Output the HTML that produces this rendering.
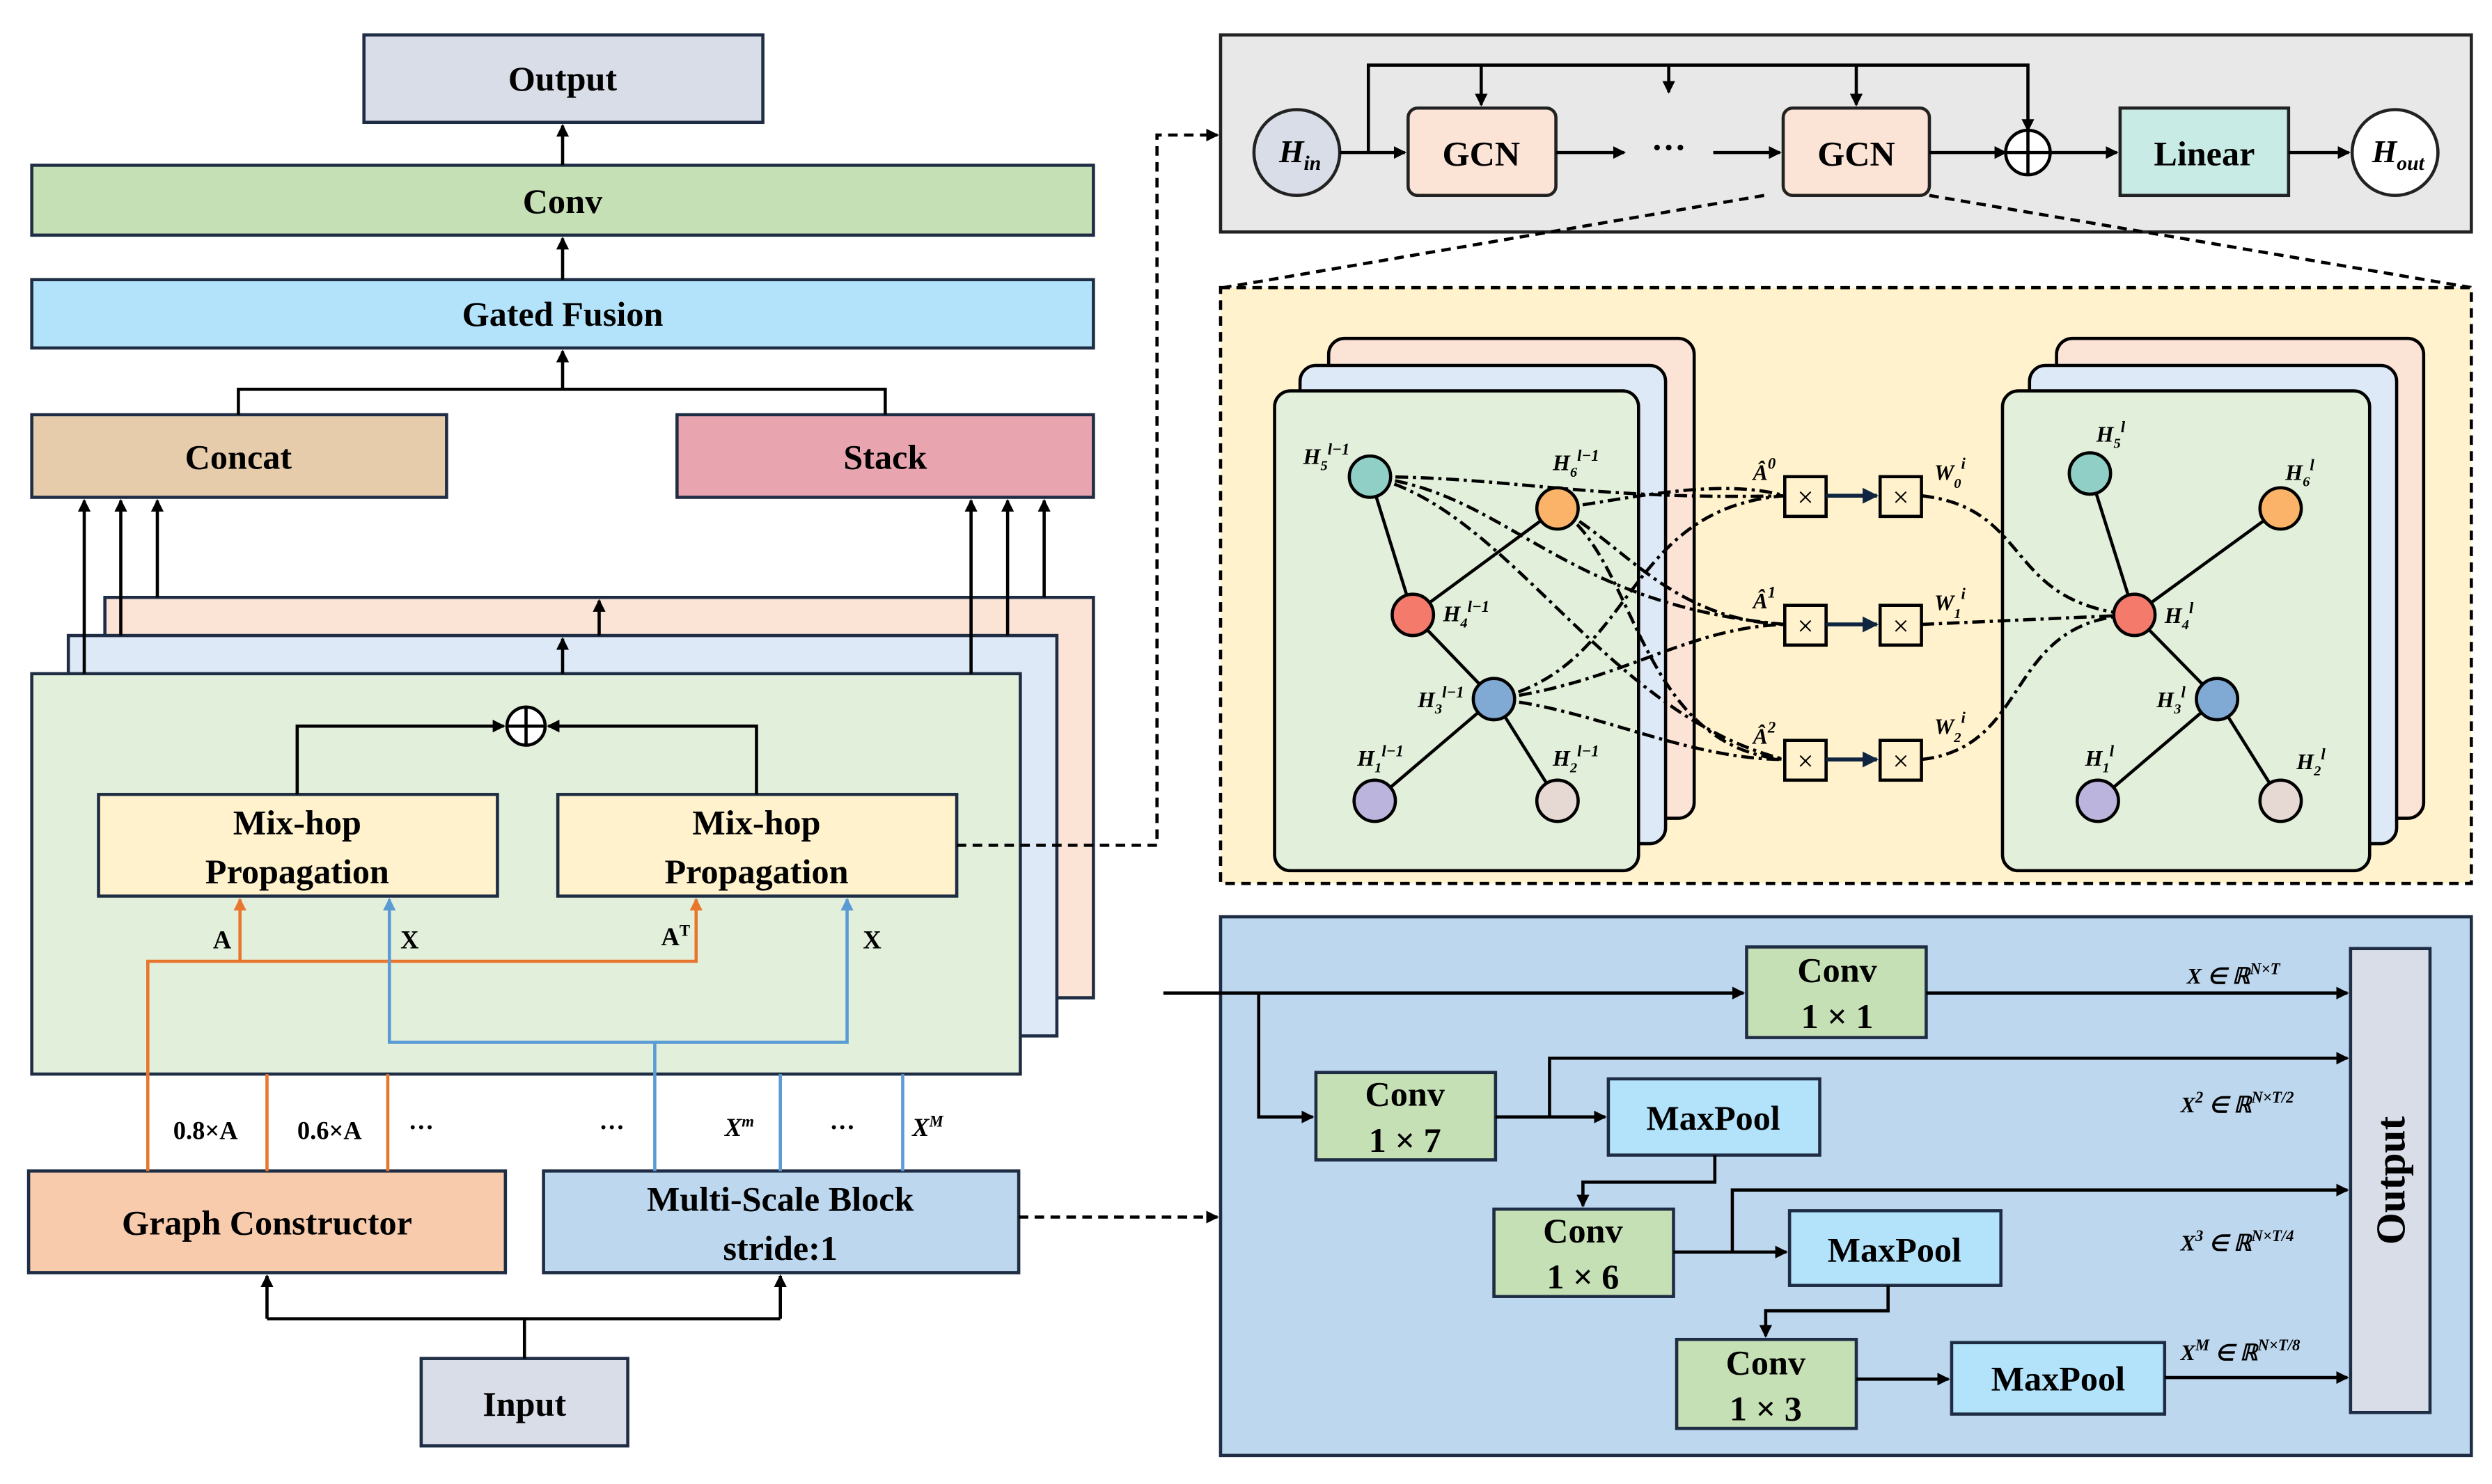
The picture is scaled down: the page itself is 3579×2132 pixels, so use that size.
<!DOCTYPE html><html><head><style>html,body{margin:0;padding:0;background:#fff}svg{display:block}</style></head><body>
<svg width="3579" height="2132" viewBox="0 0 1568 934" preserveAspectRatio="none" xmlns="http://www.w3.org/2000/svg" font-family="Liberation Serif, serif" font-weight="bold">
<defs>
<marker id="a" markerWidth="8" markerHeight="8" refX="7" refY="4" orient="auto" markerUnits="userSpaceOnUse"><path d="M0,0 L8,4 L0,8 z" fill="#000"/></marker>
<marker id="ao" markerWidth="8" markerHeight="8" refX="7" refY="4" orient="auto" markerUnits="userSpaceOnUse"><path d="M0,0 L8,4 L0,8 z" fill="#e8762d"/></marker>
<marker id="ab" markerWidth="8" markerHeight="8" refX="7" refY="4" orient="auto" markerUnits="userSpaceOnUse"><path d="M0,0 L8,4 L0,8 z" fill="#5b9bd5"/></marker>
<marker id="an" markerWidth="10" markerHeight="10" refX="9" refY="5" orient="auto" markerUnits="userSpaceOnUse"><path d="M0,0 L10,5 L0,10 z" fill="#0f2540"/></marker>
</defs>
<g stroke="#1f2d44" stroke-width="2">
<rect x="229" y="22" width="251" height="55" fill="#d9dde8"/>
<rect x="20" y="104" width="668" height="44" fill="#c5e0b4"/>
<rect x="20" y="176" width="668" height="43" fill="#b3e3fa"/>
<rect x="20" y="261" width="261" height="52" fill="#e6ccaa"/>
<rect x="426" y="261" width="262" height="52" fill="#e8a5b0"/>
<rect x="66" y="376" width="622" height="252" fill="#fbe3d6"/>
<rect x="43" y="400" width="622" height="252" fill="#dde9f6"/>
<rect x="20" y="424" width="622" height="252" fill="#e2efda"/>
<rect x="62" y="500" width="251" height="64" fill="#fff2cc"/>
<rect x="351" y="500" width="251" height="64" fill="#fff2cc"/>
<rect x="18" y="737" width="300" height="64" fill="#f8cbad"/>
<rect x="342" y="737" width="299" height="64" fill="#bdd7ee"/>
<rect x="265" y="855" width="130" height="55" fill="#d9dde8"/>
</g>
<g font-size="22" text-anchor="middle" fill="#000">
<text x="354" y="57">Output</text><text x="354" y="134">Conv</text><text x="354" y="205">Gated Fusion</text>
<text x="150" y="295">Concat</text><text x="557" y="295">Stack</text>
<text x="187" y="525">Mix-hop</text><text x="187" y="556">Propagation</text>
<text x="476" y="525">Mix-hop</text><text x="476" y="556">Propagation</text>
<text x="168" y="777">Graph Constructor</text>
<text x="491" y="762">Multi-Scale Block</text><text x="491" y="793">stride:1</text>
<text x="330" y="891">Input</text>
</g>
<g stroke="#000" stroke-width="2" fill="none">
<line x1="354" y1="104" x2="354" y2="79" marker-end="url(#a)"/>
<line x1="354" y1="176" x2="354" y2="150" marker-end="url(#a)"/>
<polyline points="150,261 150,245 557,245 557,261"/><line x1="354" y1="245" x2="354" y2="221" marker-end="url(#a)"/>
<line x1="53" y1="424" x2="53" y2="315" marker-end="url(#a)"/><line x1="76" y1="400" x2="76" y2="315" marker-end="url(#a)"/><line x1="99" y1="376" x2="99" y2="315" marker-end="url(#a)"/>
<line x1="611" y1="424" x2="611" y2="315" marker-end="url(#a)"/><line x1="634" y1="400" x2="634" y2="315" marker-end="url(#a)"/><line x1="657" y1="376" x2="657" y2="315" marker-end="url(#a)"/>
<line x1="377" y1="400" x2="377" y2="378" marker-end="url(#a)"/><line x1="354" y1="424" x2="354" y2="402" marker-end="url(#a)"/>
<polyline points="187,500 187,457 317,457" marker-end="url(#a)"/><polyline points="476,500 476,457 345,457" marker-end="url(#a)"/>
<circle cx="331" cy="457" r="12" fill="#fff"/><line x1="319" y1="457" x2="343" y2="457"/><line x1="331" y1="445" x2="331" y2="469"/>
<line x1="330" y1="855" x2="330" y2="830"/><polyline points="168,830 491,830"/>
<line x1="168" y1="830" x2="168" y2="803" marker-end="url(#a)"/><line x1="491" y1="830" x2="491" y2="803" marker-end="url(#a)"/>
</g>
<g stroke="#e8762d" stroke-width="2" fill="none">
<polyline points="93,737 93,605 438,605 438,566" marker-end="url(#ao)"/><line x1="151" y1="605" x2="151" y2="566" marker-end="url(#ao)"/>
<line x1="168" y1="676" x2="168" y2="737"/><line x1="244" y1="676" x2="244" y2="737"/>
</g>
<g stroke="#5b9bd5" stroke-width="2" fill="none">
<polyline points="412,737 412,656 245,656 245,566" marker-end="url(#ab)"/><polyline points="412,656 533,656 533,566" marker-end="url(#ab)"/>
<line x1="491" y1="676" x2="491" y2="737"/><line x1="568" y1="676" x2="568" y2="737"/>
</g>
<g font-size="16" fill="#000">
<text x="134" y="597">A</text><text x="252" y="597">X</text><text x="416" y="595">A<tspan font-size="10" dy="-6">T</tspan></text><text x="543" y="597">X</text>
<text x="109" y="717">0.8×A</text><text x="187" y="717">0.6×A</text><text x="257" y="715">···</text><text x="377" y="715">···</text>
<text x="456" y="715" font-style="italic">X<tspan font-size="10" dy="-6">m</tspan></text><text x="522" y="715">···</text><text x="574" y="715" font-style="italic">X<tspan font-size="10" dy="-6">M</tspan></text>
</g>
<g stroke="#000" stroke-width="2" fill="none" stroke-dasharray="6,4">
<polyline points="602,532 728,532 728,85 766,85" marker-end="url(#a)"/>
<line x1="641" y1="766" x2="766" y2="766" marker-end="url(#a)"/>
</g>
<!-- top right -->
<rect x="768" y="22" width="787" height="124" fill="#e8e8e8" stroke="#222" stroke-width="2"/>
<g stroke="#000" stroke-width="2" fill="none" stroke-dasharray="6,4">
<line x1="1110" y1="123" x2="770" y2="181"/><line x1="1214" y1="123" x2="1555" y2="181"/>
</g>
<g stroke="#222" stroke-width="2">
<circle cx="816" cy="96" r="27" fill="#d9dde8"/><circle cx="1507" cy="96" r="27" fill="#fff"/>
<rect x="886" y="68" width="93" height="55" rx="6" fill="#fbe3d6"/><rect x="1122" y="68" width="92" height="55" rx="6" fill="#fbe3d6"/>
<rect x="1334" y="68" width="106" height="55" fill="#c9ebe6"/>
</g>
<g stroke="#000" stroke-width="2" fill="none">
<line x1="843" y1="96" x2="884" y2="96" marker-end="url(#a)"/><line x1="979" y1="96" x2="1022" y2="96" marker-end="url(#a)"/>
<line x1="1078" y1="96" x2="1120" y2="96" marker-end="url(#a)"/><line x1="1214" y1="96" x2="1262" y2="96" marker-end="url(#a)"/>
<line x1="1290" y1="96" x2="1332" y2="96" marker-end="url(#a)"/><line x1="1440" y1="96" x2="1478" y2="96" marker-end="url(#a)"/>
<polyline points="861,96 861,41 1276,41 1276,82" marker-end="url(#a)"/>
<line x1="932" y1="41" x2="932" y2="66" marker-end="url(#a)"/><line x1="1050" y1="41" x2="1050" y2="58" marker-end="url(#a)"/><line x1="1168" y1="41" x2="1168" y2="66" marker-end="url(#a)"/>
<circle cx="1276" cy="96" r="14" fill="#fff"/><line x1="1262" y1="96" x2="1290" y2="96"/><line x1="1276" y1="82" x2="1276" y2="110"/>
</g>
<g font-size="22" text-anchor="middle"><text x="932" y="104">GCN</text><text x="1168" y="104">GCN</text><text x="1387" y="104">Linear</text><text x="1050" y="100">···</text>
<text x="818" y="102" font-style="italic" font-size="20">H<tspan font-size="13" dy="5">in</tspan></text><text x="1509" y="102" font-style="italic" font-size="20">H<tspan font-size="13" dy="5">out</tspan></text></g>
<!-- yellow panel -->
<rect x="768" y="181" width="787" height="375" fill="#fff2cc" stroke="#000" stroke-width="2" stroke-dasharray="6,4"/>
<g stroke="#000" stroke-width="2">
<rect x="836" y="213" width="230" height="302" rx="10" fill="#fbe3d6"/><rect x="818" y="230" width="230" height="301" rx="10" fill="#dde9f6"/><rect x="802" y="246" width="229" height="302" rx="10" fill="#e2efda"/>
<rect x="1294" y="213" width="231" height="302" rx="10" fill="#fbe3d6"/><rect x="1277" y="230" width="231" height="301" rx="10" fill="#dde9f6"/><rect x="1260" y="246" width="231" height="302" rx="10" fill="#e2efda"/>
<path d="M862,300 L889,387 L980,320 M889,387 L940,440 L865,504 M940,440 L980,504 M1315,298 L1343,387 L1435,320 M1343,387 L1395,440 L1320,504 M1395,440 L1435,504" fill="none"/>
</g>
<g stroke="#000" stroke-width="2" fill="none" stroke-dasharray="8,3,2,3">
<path d="M862,300 C950,300 1000,315 1123,312"/><path d="M862,300 C950,310 980,380 1123,393"/><path d="M862,300 C950,320 1010,450 1123,478"/>
<path d="M980,320 C1020,315 1080,300 1123,312"/><path d="M980,320 C1020,340 1050,390 1123,393"/><path d="M980,320 C1030,350 1030,470 1123,478"/>
<path d="M940,440 C1030,420 1020,320 1123,312"/><path d="M940,440 C1020,430 1060,395 1123,393"/><path d="M940,440 C1000,445 1060,478 1123,478"/>
<path d="M1209,312 C1280,320 1260,380 1343,387"/><path d="M1209,393 L1343,387"/><path d="M1209,478 C1280,470 1260,390 1343,387"/>
</g>
<g stroke="#000" stroke-width="2" fill="#fff2cc">
<rect x="1123" y="300" width="26" height="25"/><rect x="1183" y="300" width="26" height="25"/>
<rect x="1123" y="381" width="26" height="25"/><rect x="1183" y="381" width="26" height="25"/>
<rect x="1123" y="466" width="26" height="25"/><rect x="1183" y="466" width="26" height="25"/>
</g>
<g stroke="#0f2540" stroke-width="2.5"><line x1="1149" y1="312" x2="1181" y2="312" marker-end="url(#an)"/><line x1="1149" y1="393" x2="1181" y2="393" marker-end="url(#an)"/><line x1="1149" y1="478" x2="1181" y2="478" marker-end="url(#an)"/></g>
<g font-size="18" text-anchor="middle" font-weight="normal"><text x="1136" y="319">×</text><text x="1196" y="319">×</text><text x="1136" y="400">×</text><text x="1196" y="400">×</text><text x="1136" y="485">×</text><text x="1196" y="485">×</text></g>
<g stroke="#000" stroke-width="2">
<circle cx="862" cy="300" r="13" fill="#8fcfc6"/><circle cx="980" cy="320" r="13" fill="#fbb36a"/><circle cx="889" cy="387" r="13" fill="#f47b6b"/><circle cx="940" cy="440" r="13" fill="#80a9d3"/><circle cx="865" cy="504" r="13" fill="#bbb4dd"/><circle cx="980" cy="504" r="13" fill="#e6d8d2"/>
<circle cx="1315" cy="298" r="13" fill="#8fcfc6"/><circle cx="1435" cy="320" r="13" fill="#fbb36a"/><circle cx="1343" cy="387" r="13" fill="#f47b6b"/><circle cx="1395" cy="440" r="13" fill="#80a9d3"/><circle cx="1320" cy="504" r="13" fill="#bbb4dd"/><circle cx="1435" cy="504" r="13" fill="#e6d8d2"/>
</g>
<g font-size="14" font-style="italic">
<text x="820" y="292">H<tspan font-size="9" dy="4">5</tspan><tspan font-size="10" dy="-10">l−1</tspan></text>
<text x="977" y="296">H<tspan font-size="9" dy="4">6</tspan><tspan font-size="10" dy="-10">l−1</tspan></text>
<text x="908" y="391">H<tspan font-size="9" dy="4">4</tspan><tspan font-size="10" dy="-10">l−1</tspan></text>
<text x="892" y="445">H<tspan font-size="9" dy="4">3</tspan><tspan font-size="10" dy="-10">l−1</tspan></text>
<text x="854" y="482">H<tspan font-size="9" dy="4">1</tspan><tspan font-size="10" dy="-10">l−1</tspan></text>
<text x="977" y="482">H<tspan font-size="9" dy="4">2</tspan><tspan font-size="10" dy="-10">l−1</tspan></text>
<text x="1319" y="278">H<tspan font-size="9" dy="4">5</tspan><tspan font-size="10" dy="-10">l</tspan></text>
<text x="1438" y="302">H<tspan font-size="9" dy="4">6</tspan><tspan font-size="10" dy="-10">l</tspan></text>
<text x="1362" y="392">H<tspan font-size="9" dy="4">4</tspan><tspan font-size="10" dy="-10">l</tspan></text>
<text x="1357" y="445">H<tspan font-size="9" dy="4">3</tspan><tspan font-size="10" dy="-10">l</tspan></text>
<text x="1312" y="482">H<tspan font-size="9" dy="4">1</tspan><tspan font-size="10" dy="-10">l</tspan></text>
<text x="1445" y="484">H<tspan font-size="9" dy="4">2</tspan><tspan font-size="10" dy="-10">l</tspan></text>
<text x="1103" y="302">Â<tspan font-size="10" dy="-7">0</tspan></text><text x="1103" y="383">Â<tspan font-size="10" dy="-7">1</tspan></text><text x="1103" y="468">Â<tspan font-size="10" dy="-7">2</tspan></text>
<text x="1217" y="302">W<tspan font-size="9" dy="5">0</tspan><tspan font-size="10" dy="-12">i</tspan></text><text x="1217" y="384">W<tspan font-size="9" dy="5">1</tspan><tspan font-size="10" dy="-12">i</tspan></text><text x="1217" y="462">W<tspan font-size="9" dy="5">2</tspan><tspan font-size="10" dy="-12">i</tspan></text>
</g>
<!-- blue panel -->
<rect x="768" y="577" width="787" height="339" fill="#bdd7ee" stroke="#1f2d44" stroke-width="2"/>
<g stroke="#1f2d44" stroke-width="2">
<rect x="1479" y="597" width="50" height="292" fill="#d9dde8"/>
<rect x="1099" y="596" width="113" height="57" fill="#c5e0b4"/><rect x="828" y="675" width="113" height="55" fill="#c5e0b4"/><rect x="940" y="761" width="113" height="55" fill="#c5e0b4"/><rect x="1055" y="843" width="113" height="56" fill="#c5e0b4"/>
<rect x="1012" y="679" width="133" height="48" fill="#b3e3fa"/><rect x="1126" y="762" width="133" height="47" fill="#b3e3fa"/><rect x="1228" y="845" width="134" height="45" fill="#b3e3fa"/>
</g>
<g stroke="#000" stroke-width="2" fill="none">
<line x1="732" y1="625" x2="1097" y2="625" marker-end="url(#a)"/><polyline points="792,625 792,703 826,703" marker-end="url(#a)"/>
<line x1="1212" y1="625" x2="1477" y2="625" marker-end="url(#a)"/>
<line x1="941" y1="703" x2="1010" y2="703" marker-end="url(#a)"/><polyline points="975,703 975,666 1477,666" marker-end="url(#a)"/>
<polyline points="1079,727 1079,744 996,744 996,759" marker-end="url(#a)"/>
<line x1="1053" y1="788" x2="1124" y2="788" marker-end="url(#a)"/><polyline points="1090,788 1090,749 1477,749" marker-end="url(#a)"/>
<polyline points="1188,809 1188,825 1111,825 1111,841" marker-end="url(#a)"/>
<line x1="1168" y1="868" x2="1226" y2="868" marker-end="url(#a)"/><line x1="1362" y1="867" x2="1477" y2="867" marker-end="url(#a)"/>
</g>
<g font-size="22" text-anchor="middle">
<text x="1156" y="618">Conv</text><text x="1156" y="647">1 × 1</text>
<text x="884" y="696">Conv</text><text x="884" y="725">1 × 7</text>
<text x="996" y="782">Conv</text><text x="996" y="811">1 × 6</text>
<text x="1111" y="865">Conv</text><text x="1111" y="894">1 × 3</text>
<text x="1078" y="711">MaxPool</text><text x="1192" y="794">MaxPool</text><text x="1295" y="875">MaxPool</text>
<text transform="translate(1513,743) rotate(-90)" font-size="26">Output</text>
</g>
<g font-size="14" font-style="italic">
<text x="1376" y="619">X ∈ ℝ<tspan font-size="10" dy="-6">N×T</tspan></text>
<text x="1372" y="700">X<tspan font-size="10" dy="-6">2</tspan><tspan dy="6"> ∈ ℝ</tspan><tspan font-size="10" dy="-6">N×T/2</tspan></text>
<text x="1372" y="787">X<tspan font-size="10" dy="-6">3</tspan><tspan dy="6"> ∈ ℝ</tspan><tspan font-size="10" dy="-6">N×T/4</tspan></text>
<text x="1372" y="856">X<tspan font-size="10" dy="-6">M</tspan><tspan dy="6"> ∈ ℝ</tspan><tspan font-size="10" dy="-6">N×T/8</tspan></text>
</g>
</svg>
</body></html>
